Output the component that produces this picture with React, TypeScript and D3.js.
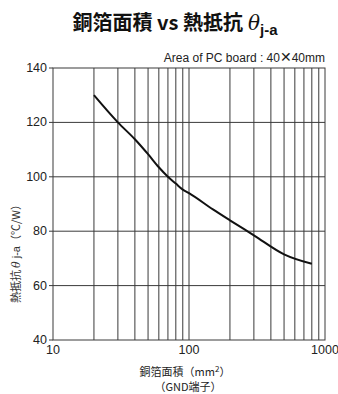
import React from 'react';
import * as d3 from 'd3';

// copper foil area (mm2) vs thermal resistance (degC/W)
const areas = [20, 30, 40, 50, 60, 70, 80, 90, 100, 150, 200, 300, 500, 800];
const thetas = [130, 120, 113.8, 108.3, 103.5, 100, 97.5, 95.3, 94, 88, 84, 78.5, 71.5, 68];

const yTicks = [40, 60, 80, 100, 120, 140];
const xTicks = [10, 100, 1000];
const xGrid = [20, 30, 40, 50, 60, 70, 80, 90, 100, 200, 300, 400, 500, 600, 700, 800, 900];

const W = 338;
const H = 394;
const m = { left: 53, right: 13, top: 68, bottom: 54 };

const jp = '"Noto Sans CJK JP", "Liberation Sans", Arial, sans-serif';
const latin = '"Liberation Sans", Arial, sans-serif';

const App = () => {
  const x = d3.scaleLog().domain([10, 1000]).range([m.left, W - m.right]);
  const y = d3.scaleLinear().domain([40, 140]).range([H - m.bottom, m.top]);

  const line = d3.line<number>()
    .x((d, i) => x(areas[i]))
    .y(d => y(d))
    .curve(d3.curveMonotoneX);

  const gridColor = '#3a3a3a';

  return (
    <svg width={W} height={H} style={{ position: 'absolute', left: 0, top: 0 }}>
      <rect width={W} height={H} fill="#fff" />
      <text x={175} y={30} textAnchor="middle" fontFamily={jp} fontWeight="bold" fontSize={20} fill="#111">
        銅箔面積 vs 熱抵抗
        <tspan fontFamily='"DejaVu Serif", serif' fontStyle="italic" fontWeight="normal" dx={5}>θ</tspan>
        <tspan fontFamily={latin} fontSize={15} dy={5}>j-a</tspan>
      </text>
      <text x={W - m.right} y={62} textAnchor="end" fontFamily={latin} fontSize={12} fill="#222">
        Area of PC board : 40<tspan fontFamily='"DejaVu Sans", sans-serif' fontSize={14}>✕</tspan>40mm
      </text>

      {yTicks.slice(1, -1).map(t => (
        <line key={'h' + t} x1={x(10)} x2={x(1000)} y1={y(t)} y2={y(t)} stroke={gridColor} strokeWidth={1} />
      ))}
      {xGrid.map(t => (
        <line key={'v' + t} x1={x(t)} x2={x(t)} y1={y(40)} y2={y(140)} stroke={gridColor} strokeWidth={1} />
      ))}
      {yTicks.map(t => (
        <line key={'tk' + t} x1={x(10) - 4} x2={x(10)} y1={y(t)} y2={y(t)} stroke={gridColor} strokeWidth={1} />
      ))}
      <rect x={x(10)} y={y(140)} width={x(1000) - x(10)} height={y(40) - y(140)} fill="none" stroke={gridColor} strokeWidth={1} />

      <path d={line(thetas) || ''} fill="none" stroke="#111" strokeWidth={2} />

      {yTicks.map(t => (
        <text key={'yt' + t} x={x(10) - 6} y={y(t) + 4} textAnchor="end" fontFamily={latin} fontSize={12.5} fill="#222">
          {t}
        </text>
      ))}
      {xTicks.map(t => (
        <text key={'xt' + t} x={x(t)} y={y(40) + 14} textAnchor="middle" fontFamily={latin} fontSize={12.5} fill="#222">
          {t}
        </text>
      ))}

      <text transform={`translate(20,251) rotate(-90)`} textAnchor="middle" fontFamily={jp} fontSize={11} fill="#333">
        熱抵抗
        <tspan fontFamily='"DejaVu Serif", serif' fontStyle="italic" dx={2}>θ</tspan>
        <tspan fontFamily={latin}> j-a</tspan>（℃/W）
      </text>

      <text x={185} y={376} textAnchor="middle" fontFamily={jp} fontSize={11} fill="#222">
        銅箔面積（mm<tspan fontSize={8} dy={-4}>2</tspan><tspan dy={4}>）</tspan>
      </text>
      <text x={188} y={391} textAnchor="middle" fontFamily={jp} fontSize={11} fill="#222">
        （GND端子）
      </text>
    </svg>
  );
};

export default App;
